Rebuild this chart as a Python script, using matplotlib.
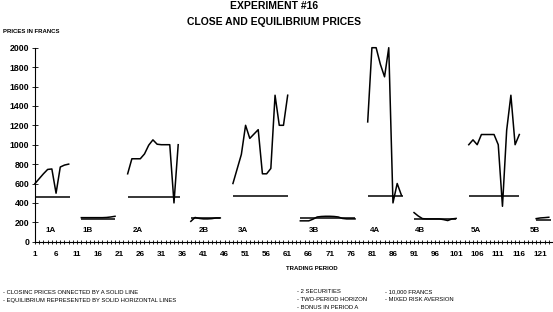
import matplotlib
matplotlib.use("Agg")
import matplotlib.pyplot as plt
from matplotlib.ticker import MultipleLocator

plt.rcParams['font.family'] = ['Liberation Sans', 'DejaVu Sans']

# Closing prices per market (periods, price in francs)
p_1a = list(range(1, 10))
c_1a = [600, 650, 700, 745, 750, 500, 770, 790, 800]
p_1b = list(range(12, 21))
c_1b = [248, 248, 248, 248, 248, 248, 250, 255, 262]
p_2a = list(range(23, 36))
c_2a = [700, 855, 855, 855, 905, 995, 1050, 1005, 1000, 1000, 1000, 400, 1000]
p_2b = list(range(38, 46))
c_2b = [210, 250, 240, 235, 235, 238, 245, 245]
p_3a = list(range(48, 62))
c_3a = [600, 750, 900, 1200, 1065, 1110, 1155, 700, 700, 755, 1510, 1200, 1200, 1510]
p_3b = list(range(64, 78))
c_3b = [215, 215, 215, 232, 255, 260, 262, 262, 260, 255, 240, 235, 235, 235]
p_4a = list(range(80, 89))
c_4a = [1235, 2000, 2000, 1830, 1700, 2000, 400, 600, 480]
p_4b = list(range(91, 102))
c_4b = [300, 265, 238, 235, 235, 235, 235, 228, 218, 235, 240]
p_5a = list(range(104, 117))
c_5a = [1000, 1050, 1000, 1105, 1105, 1105, 1105, 1000, 365, 1150, 1510, 1000, 1105]
p_5b = list(range(120, 124))
c_5b = [238, 245, 248, 252]

# Equilibrium prices per market (first period, last period, price)
eq_1a = (1, 9.2, 463)
eq_1b = (12, 20, 232)
eq_2a = (23, 35.5, 463)
eq_2b = (38, 45, 240)
eq_3a = (48, 61, 467)
eq_3b = (64, 77, 240)
eq_4a = (80, 88.3, 467)
eq_4b = (91, 101, 232)
eq_5a = (104, 116, 467)
eq_5b = (120, 123.5, 228)

markets = ["1A", "1B", "2A", "2B", "3A", "3B", "4A", "4B", "5A", "5B"]
market_label_x = [4.7, 13.6, 25.5, 41, 50.5, 67.2, 81.6, 92.5, 105.8, 119.8]
market_label_y = 120

closes = [(p_1a, c_1a), (p_1b, c_1b), (p_2a, c_2a), (p_2b, c_2b), (p_3a, c_3a),
          (p_3b, c_3b), (p_4a, c_4a), (p_4b, c_4b), (p_5a, c_5a), (p_5b, c_5b)]
equilibria = [eq_1a, eq_1b, eq_2a, eq_2b, eq_3a, eq_3b, eq_4a, eq_4b, eq_5a, eq_5b]

fig = plt.figure(figsize=(5.53, 3.12), dpi=100)
ax = fig.add_axes([0.0633, 0.2253, 0.9367, 0.6218])

for (px, cy), (x0, x1, eq) in zip(closes, equilibria):
    ax.plot([x0, x1], [eq, eq], color='black', lw=1.1, solid_capstyle='butt')
    ax.plot(px, cy, color='black', lw=1.1, clip_on=False)

for name, lx in zip(markets, market_label_x):
    ax.text(lx, market_label_y, name, ha='center', va='center', fontsize=5.8,
            fontweight='bold')

ax.set_xlim(1, 124)
ax.set_ylim(0, 2000)
for s in ['top', 'right']:
    ax.spines[s].set_visible(False)
ax.spines['left'].set_linewidth(0.8)
ax.spines['bottom'].set_linewidth(0.8)

ax.set_xticks(range(1, 122, 5))
ax.xaxis.set_minor_locator(MultipleLocator(1))
ax.set_yticks(range(0, 2001, 200))
ax.tick_params(axis='x', which='both', direction='inout', length=3, width=0.6,
               labelsize=5.9, pad=5.2)
ax.tick_params(axis='y', direction='inout', length=4, width=0.6,
               labelsize=6.3, pad=2.3)
for lab in ax.get_xticklabels() + ax.get_yticklabels():
    lab.set_fontweight('bold')

fig.text(0.495, 0.982, "EXPERIMENT #16", ha='center', va='center',
         fontsize=7.5, fontweight='bold')
fig.text(0.495, 0.928, "CLOSE AND EQUILIBRIUM PRICES", ha='center', va='center',
         fontsize=7.5, fontweight='bold')
fig.text(0.005, 0.900, "PRICES IN FRANCS", ha='left', va='center',
         fontsize=4.3, fontweight='bold')
fig.text(312 / 553, 1 - 268.4 / 312, "TRADING PERIOD", ha='center', va='center',
         fontsize=4.3, fontweight='bold')

notes_left = ["- CLOSINC PRICES ONNECTED BY A SOLID LINE",
              "- EQUILIBRIUM REPRESENTED BY SOLID HORIZONTAL LINES"]
notes_mid = ["- 2 SECURITIES", "- TWO-PERIOD HORIZON", "- BONUS IN PERIOD A"]
notes_right = ["- 10,000 FRANCS", "- MIXED RISK AVERSION"]
for i, t in enumerate(notes_left):
    fig.text(0.005, 1 - (292.3 + 7.8 * i) / 312, t, ha='left', va='center', fontsize=4.2)
for i, t in enumerate(notes_mid):
    fig.text(297 / 553, 1 - (291.8 + 7.8 * i) / 312, t, ha='left', va='center', fontsize=4.2)
for i, t in enumerate(notes_right):
    fig.text(385 / 553, 1 - (291.3 + 7.8 * i) / 312, t, ha='left', va='center', fontsize=4.2)

fig.savefig("out.png", dpi=100)
